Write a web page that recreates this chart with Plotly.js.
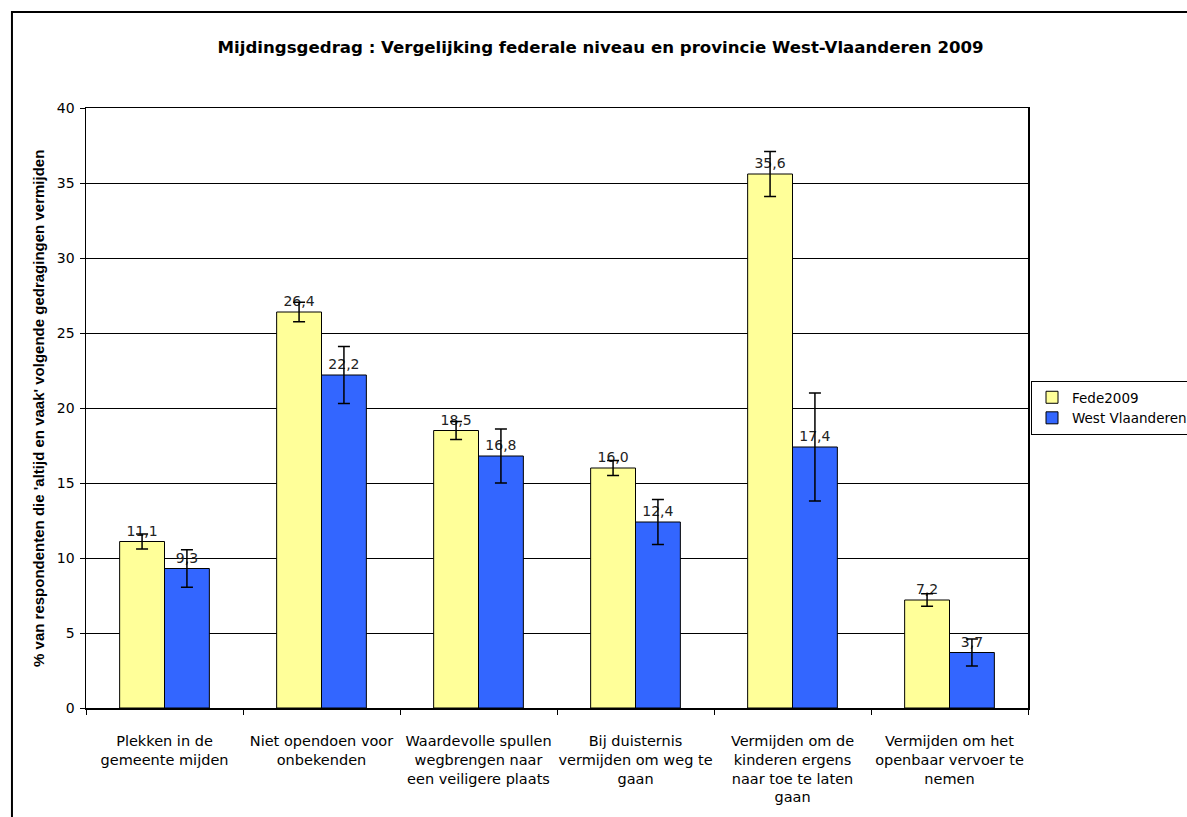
<!DOCTYPE html>
<html>
<head>
<meta charset="utf-8">
<script src="https://cdn.plot.ly/plotly-3.0.1.min.js"></script>
<style>body{margin:0;padding:0;background:#fff;}#chart{width:1187px;height:817px;}</style>
</head>
<body>
<div id="chart"></div>
<script>
const categories = [
  "Plekken in de gemeente mijden",
  "Niet opendoen voor onbekenden",
  "Waardevolle spullen wegbrengen naar een veiligere plaats",
  "Bij duisternis vermijden om weg te gaan",
  "Vermijden om de kinderen ergens naar toe te laten gaan",
  "Vermijden om het openbaar vervoer te nemen"
];
const tickLabels = [
  "Plekken in de<br>gemeente mijden",
  "Niet opendoen voor<br>onbekenden",
  "Waardevolle spullen<br>wegbrengen naar<br>een veiligere plaats",
  "Bij duisternis<br>vermijden om weg te<br>gaan",
  "Vermijden om de<br>kinderen ergens<br>naar toe te laten<br>gaan",
  "Vermijden om het<br>openbaar vervoer te<br>nemen"
];
const fedeValues = [11.1, 26.4, 18.5, 16.0, 35.6, 7.2];
const fedeErrors = [0.5, 0.65, 0.6, 0.5, 1.5, 0.42];
const wvValues = [9.3, 22.2, 16.8, 12.4, 17.4, 3.7];
const wvErrors = [1.25, 1.9, 1.8, 1.5, 3.6, 0.9];
const yTicks = [0, 5, 10, 15, 20, 25, 30, 35, 40];

const WIDE = "DejaVu Sans, Verdana, sans-serif";
const ARIAL = "Liberation Sans, Arial, sans-serif";

const errStyle = {type: "data", visible: true, color: "#000", thickness: 1.5, width: 6};

const traces = [
  {
    type: "bar", name: "Fede2009", x: categories, y: fedeValues,
    marker: {color: "#FFFF99", line: {color: "#000", width: 1}},
    error_y: Object.assign({array: fedeErrors}, errStyle),
    texttemplate: "%{y:.1f}", textposition: "outside", cliponaxis: false,
    textfont: {family: WIDE, size: 14, color: "#222"}
  },
  {
    type: "bar", name: "West Vlaanderen", x: categories, y: wvValues,
    marker: {color: "#3366FF", line: {color: "#000", width: 1}},
    error_y: Object.assign({array: wvErrors}, errStyle),
    texttemplate: "%{y:.1f}", textposition: "outside", cliponaxis: false,
    textfont: {family: WIDE, size: 14, color: "#222"}
  }
];

const layout = {
  width: 1187, height: 817,
  margin: {l: 86, r: 159, t: 108, b: 109},
  paper_bgcolor: "#fff", plot_bgcolor: "#fff",
  separators: ",.",
  font: {family: WIDE, size: 14, color: "#000"},
  barmode: "group", bargap: 0.4286, bargroupgap: 0,
  title: {
    text: "<b>Mijdingsgedrag : Vergelijking federale niveau en provincie West-Vlaanderen 2009</b>",
    font: {family: WIDE, size: 16.6, color: "#000"},
    x: 0.506, xref: "container", xanchor: "center",
    y: 1 - 47/817, yref: "container", yanchor: "middle"
  },
  xaxis: {
    type: "category", tickmode: "array", tickvals: categories, ticktext: tickLabels,
    tickson: "boundaries", ticks: "outside", ticklen: 5, tickcolor: "#000", tickwidth: 1,
    ticklabelstandoff: 19, tickangle: 0,
    showline: true, linecolor: "#000", linewidth: 1.5, mirror: true,
    showgrid: false, tickfont: {family: WIDE, size: 14.5, color: "#000"}, automargin: false
  },
  yaxis: {
    range: [0, 40], tickmode: "array", tickvals: yTicks,
    ticks: "outside", ticklen: 5, tickcolor: "#000", tickwidth: 1,
    ticklabelstandoff: 2,
    showline: true, linecolor: "#000", linewidth: 1.5, mirror: true,
    showgrid: true, gridcolor: "#000", gridwidth: 1, zeroline: false,
    tickfont: {family: WIDE, size: 14, color: "#000"}, automargin: false
  },
  legend: {
    xref: "container", yref: "container",
    x: 1031/1187, y: 1 - 381/817, xanchor: "left", yanchor: "top",
    bordercolor: "#000", borderwidth: 1, bgcolor: "#fff",
    font: {family: WIDE, size: 13.5, color: "#000"},
    itemclick: false
  },
  annotations: [{
    text: "<b>% van respondenten die 'altijd en vaak' volgende gedragingen vermijden</b>",
    xref: "paper", yref: "paper", x: -0.051, y: 0.5, textangle: -90,
    showarrow: false, xanchor: "center", yanchor: "middle",
    font: {family: ARIAL, size: 15, color: "#000"}
  }],
  shapes: [{
    type: "rect", xref: "paper", yref: "paper",
    x0: -0.0786, x1: 1.3, y0: -0.3, y1: 1.16,
    line: {color: "#000", width: 2}, layer: "below"
  }],
  showlegend: true
};

Plotly.newPlot("chart", traces, layout, {displayModeBar: false, staticPlot: true});
</script>
</body>
</html>
